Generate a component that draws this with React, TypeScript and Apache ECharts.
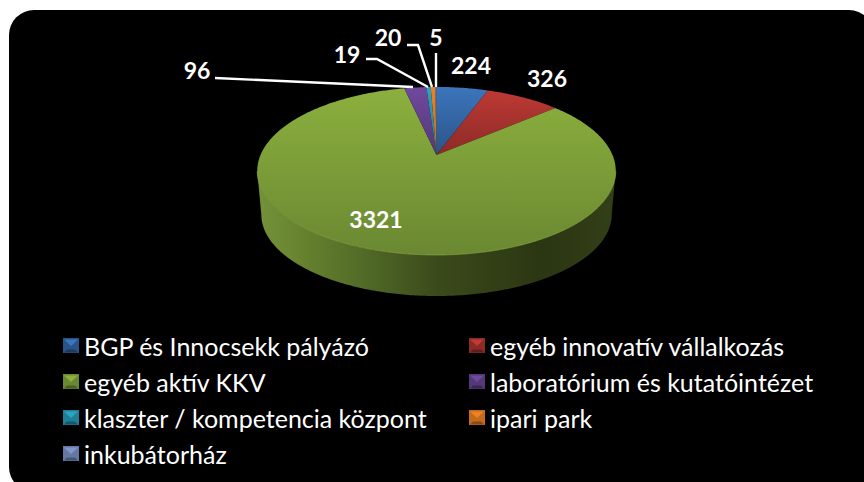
import React, { useEffect, useRef } from "react";
import * as echarts from "echarts";

const categories = [
  "BGP és Innocsekk pályázó",
  "egyéb innovatív vállalkozás",
  "egyéb aktív KKV",
  "laboratórium és kutatóintézet",
  "klaszter / kompetencia központ",
  "ipari park",
  "inkubátorház",
];
const values = [224, 326, 3321, 96, 19, 20, 5];
const lightColors = ["#3c75bc", "#c03a35", "#8cb03e", "#70499c", "#2ba3c2", "#ec8225", "#8197c9"];
const darkColors = ["#2a5488", "#8c2a26", "#6a8832", "#53387a", "#1f7f98", "#c46a1c", "#6478a4"];
const labelAnchors: number[][] = [
  [471, 65], [547, 78], [376, 219], [197, 70], [347, 54], [388, 37], [436, 37],
];
const leaders: number[][][] = [
  [[215, 78], [413, 87]],
  [[366, 59], [377, 59], [428, 87]],
  [[407, 45], [418, 45], [432, 87]],
  [[436, 53], [436, 87]],
];
const iconSpots: number[][] = [
  [63, 338.5], [63, 374.5], [63, 410.5], [63, 446.5],
  [469, 338.5], [469, 374.5], [469, 410.5],
];

const total = values.reduce((a, b) => a + b, 0);
const startOf = (i: number) => values.slice(0, i).reduce((a, b) => a + b, 0);

// perspective projection of a flat disc: top ring and lower ring
const K = 0.19;
const project = (deg: number, cx: number, cy: number, a: number, b: number) => {
  const t = (deg * Math.PI) / 180;
  const w = 1 + K * Math.cos(t);
  return [cx + (a * Math.sin(t)) / w, cy - (b * Math.cos(t)) / w];
};
const topRing = (deg: number) => project(deg, 436.5, 155, 176, 81);
const lowRing = (deg: number) => project(deg, 436.5, 199, 172, 78.6);
const WALL_FROM = 101;
const WALL_TO = 259;

const arc = (from: number, to: number, ring: (d: number) => number[]) => {
  const pts: number[][] = [];
  const n = Math.max(2, Math.ceil((to - from) * 1.5));
  for (let k = 0; k <= n; k++) pts.push(ring(from + ((to - from) * k) / n));
  return pts;
};

const wallFill = new echarts.graphic.LinearGradient(
  257, 0, 616, 0,
  [
    { offset: 0, color: "#74923a" },
    { offset: 0.12, color: "#67832f" },
    { offset: 0.3, color: "#516a27" },
    { offset: 0.5, color: "#3b4a1b" },
    { offset: 0.8, color: "#2b3612" },
    { offset: 1, color: "#333f18" },
  ],
  true
);

const renderSlice = (i: number) => (_p: any, api: any) => {
  const value = api.value(0);
  const from = (startOf(i) / total) * 360;
  const to = from + (value / total) * 360;
  const children: any[] = [];
  const wf = Math.max(from, WALL_FROM);
  const wt = Math.min(to, WALL_TO);
  if (wt > wf) {
    children.push({
      type: "polygon",
      shape: { points: [...arc(wf, wt, topRing), ...arc(wf, wt, lowRing).reverse()] },
      style: { fill: wallFill },
    });
  }
  children.push({
    type: "polygon",
    shape: { points: [[436.5, 155], ...arc(from, to, topRing)] },
    style: {
      fill: new echarts.graphic.LinearGradient(
        0, 87, 0, i === 2 ? 255 : 155,
        [
          { offset: 0, color: lightColors[i] },
          { offset: 1, color: darkColors[i] },
        ],
        true
      ),
    },
  });
  if (wt > wf) {
    children.push({
      type: "polyline",
      shape: { points: arc(wf, wt, topRing) },
      style: { fill: "none", stroke: "#93b24a", lineWidth: 1, opacity: 0.6 },
    });
  }
  children.push({
    type: "text",
    z2: 50,
    style: {
      x: labelAnchors[i][0],
      y: labelAnchors[i][1],
      text: String(value),
      fill: "#ffffff",
      font: "bold 23px Lato",
      align: "center",
      verticalAlign: "middle",
    },
  });
  return { type: "group", children };
};

const legendIcon = (i: number) => ({
  name: categories[i],
  icon: "rect",
  itemStyle: { color: darkColors[i] },
});

const legendBase = {
  orient: "vertical",
  top: 333,
  padding: 0,
  itemWidth: 16,
  itemHeight: 15,
  itemGap: 11,
  selectedMode: false,
  textStyle: { color: "#ffffff", fontFamily: "Lato", fontSize: 25 },
};

const bevels = [0, 2, 4, 6, 1, 3, 5].flatMap((cat, k) => {
  const [x, y] = iconSpots[k];
  return [
    {
      type: "polygon",
      z: 10,
      shape: { points: [[x + 1, y + 1], [x + 15, y + 1], [x + 8, y + 7.5]] },
      style: { fill: lightColors[cat] },
    },
    {
      type: "polygon",
      z: 10,
      shape: { points: [[x + 1, y + 14], [x + 15, y + 14], [x + 12, y + 11], [x + 4, y + 11]] },
      style: { fill: "#000000", opacity: 0.3 },
    },
  ];
});

export default function App() {
  const ref = useRef<HTMLDivElement>(null);
  useEffect(() => {
    document.body.style.margin = "0";
    const chart = echarts.init(ref.current!, undefined, { renderer: "svg" });
    chart.setOption({
      animation: false,
      legend: [
        { ...legendBase, left: 63, data: [0, 2, 4, 6].map(legendIcon) },
        { ...legendBase, left: 469, data: [1, 3, 5].map(legendIcon) },
      ],
      graphic: [
        {
          type: "rect",
          z: -10,
          shape: { x: 9, y: 10, width: 865, height: 482, r: 25 },
          style: { fill: "#000000" },
        },
        ...bevels,
        ...leaders.map((points) => ({
          type: "polyline",
          z: 5,
          shape: { points },
          style: { fill: "none", stroke: "#ffffff", lineWidth: 2.4 },
        })),
      ],
      series: categories.map((name, i) => ({
        type: "custom",
        name,
        coordinateSystem: "none",
        silent: true,
        data: [[values[i]]],
        itemStyle: { color: lightColors[i] },
        renderItem: renderSlice(i),
      })),
    });
    return () => chart.dispose();
  }, []);
  return <div ref={ref} style={{ width: 864, height: 482 }} />;
}
